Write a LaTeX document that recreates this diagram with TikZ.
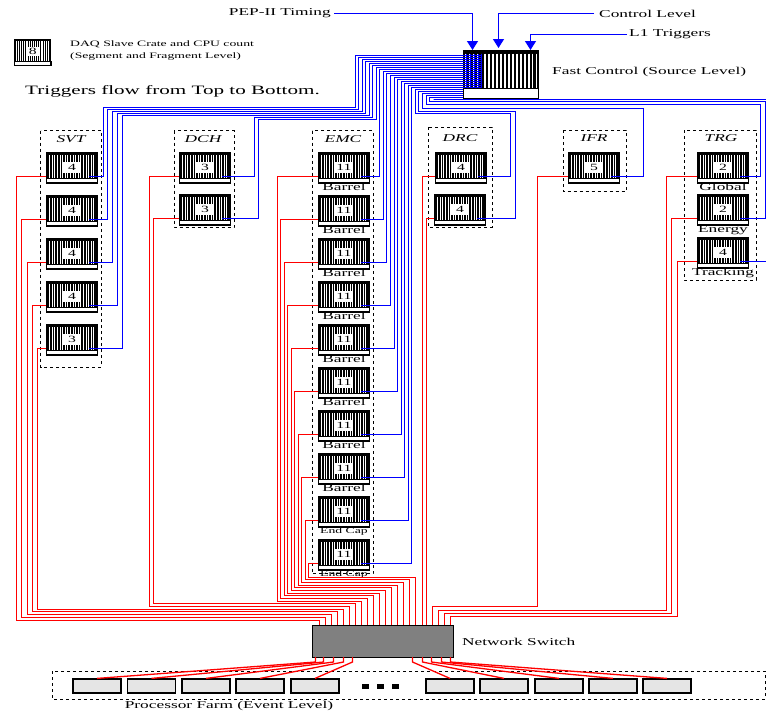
\documentclass[tikz,border=0pt]{standalone}
\usepackage{fontspec}
\setmainfont[FakeStretch=1.65]{Liberation Serif}
\usetikzlibrary{arrows.meta}
\newcommand\numfnt{\fontsize{9.5}{10}\selectfont}
\newcommand\lblfnt{\fontsize{10.5}{12}\selectfont}
\newcommand\smfnt{\fontsize{8.3}{10}\selectfont}
\newcommand\bigfnt{\fontsize{12.8}{14}\selectfont}
\tikzset{
  pics/crate/.style={code={
    \fill[black] (0,0) rectangle (52,26.5);
    \foreach \i in {0,...,17}{\draw[white,line width=0.9pt] ({3.7+2.6*\i},3.3) -- ({3.7+2.6*\i},25.8);}
    \fill[white] (17,9.5) rectangle (35,20.5);
    \node[inner sep=0pt,font=\numfnt] at (26,15.2) {#1};
    \draw[black,line width=1.1pt,fill=white] (0.55,26.9) rectangle (51.45,31);
    \coordinate (-r) at (0,24.5);
    \coordinate (-b) at (43,24.5);
  }},
}
\begin{document}
\begin{tikzpicture}[x=1pt,y=-1pt,
  rd/.style={draw=red,line width=1.3pt},
  bl/.style={draw=blue,line width=1.3pt},
  arr/.style={-{Triangle[width=11pt,length=9pt]}},
  grp/.style={draw=black,line width=0.8pt,dash pattern=on 3pt off 3pt},
  lbl/.style={inner sep=0pt,font=\lblfnt},
  sml/.style={inner sep=0pt,font=\smfnt},
  col/.style={inner sep=0pt,font=\lblfnt\itshape},
  proc/.style={draw=black,line width=1.2pt,fill=black!10,minimum width=48pt,minimum height=14pt,inner sep=0pt},
]
\useasboundingbox (0,0) rectangle (766,713);
\fill[white] (0,0) rectangle (766,713);
\clip (0,0) rectangle (766,713);

% group boxes
\draw[grp] (40.5,130.5) rectangle (101,367);
\draw[grp] (174,130.5) rectangle (234,227);
\draw[grp] (312,130.5) rectangle (373,573.5);
\draw[grp] (428,127) rectangle (492,227);
\draw[grp] (563,130) rectangle (626,191.5);
\draw[grp] (684,130) rectangle (756,280);
\node[col] (svtl) at (71,139) {SVT};
\node[col] (dchl) at (203,139) {DCH};
\node[col] (emcl) at (343,139) {EMC};
\node[col] (drcl) at (460,138) {DRC};
\node[col] (ifrl) at (594,138) {IFR};
\node[col] (trgl) at (721,138) {TRG};

% legend
\pic[xscale=0.72,yscale=0.87] (leg) at (14,38.5) {crate=8};
\node[sml,anchor=west] (lg1) at (70,44.5) {DAQ Slave Crate and CPU count};
\node[sml,anchor=west] (lg2) at (70,57) {(Segment and Fragment Level)};
\node[inner sep=0pt,font=\bigfnt,anchor=west] (tfl) at (25,91.5) {Triggers flow from Top to Bottom.};

% crates
\foreach \t [count=\i from 0] in {4,4,4,4,3} {\pic (svt\the\numexpr\i+1\relax) at (46,{152+43*\i}) {crate=\t};}
\pic (dch1) at (179,152) {crate=3};
\pic (dch2) at (179,194) {crate=3};
\foreach \j in {1,...,10} {\pic (emc\j) at (318,{152+43*(\j-1)}) {crate=11};}
\pic (drc1) at (435,152) {crate=4};
\pic (drc2) at (434,194) {crate=4};
\pic (ifr) at (568,152) {crate=5};
\pic (trg1) at (697,152) {crate=2};
\pic (trg2) at (697,194) {crate=2};
\pic (trg3) at (697,237) {crate=4};

% crate captions
\foreach \j in {1,...,8} {\node[lbl,anchor=base] at (344,{152+43*(\j-1)+38.5}) {Barrel};}
\node[sml,anchor=base] (ec1) at (344,{496+37}) {End Cap};
\node[sml,anchor=base] (ec2) at (344,{539+37}) {End Cap};
\node[lbl,anchor=base] (gl) at (723,190.5) {Global};
\node[lbl,anchor=base] (en) at (723,232.5) {Energy};
\node[lbl,anchor=base] (tr) at (723,275.5) {Tracking};

% fast control stripes
\fill[black] (463,50) rectangle (539,88);
\foreach \i in {0,...,18} {\draw[white,line width=1.6pt] ({465.5+3.95*\i},53.5) -- ++(0,34.5);}
\node[lbl,anchor=west] (fcl) at (552,71.5) {Fast Control (Source Level)};

% switch and its pins
\node[draw=black,fill=black!50,line width=0.8pt,minimum width=141pt,minimum height=32pt,inner sep=0pt,anchor=north west] (sw) at (312,625) {};
\node[lbl,anchor=west] (swl) at (462,642) {Network Switch};
\foreach \i in {0,...,16} {\coordinate (pin\i) at ({319.5+6*\i},625);}
\foreach \x [count=\i from 0] in {422.5,426.5,432.5,438.5,444.5,450.5} {\coordinate (rpin\i) at (\x,625);}

% red: left group
\foreach \n/\lx/\by [count=\i from 0] in {svt1/16.5/620.5,svt2/21.5/617.5,svt3/27.5/614.5,svt4/32.5/611.5,svt5/37.5/609.5,
  dch1/149.5/606.5,dch2/153.5/603.5,
  emc1/277.5/601.5,emc2/280.5/598.5,emc3/284.5/595.5,emc4/287.5/593.5,emc5/291.5/590.5,
  emc6/294.5/587.5,emc7/298.5/585.5,emc8/301.5/582.5,emc9/305.5/579.5,emc10/308.5/577.5} {
  \draw[rd] (\n-r) -| (\lx,\by) -| (pin\i);
}
% red: right group
\draw[rd] (drc1-r) -| (rpin0);
\draw[rd] (drc2-r) -| (rpin1);
\foreach \n/\lx/\by/\p in {ifr/537.5/606.5/2, trg1/666.5/610.5/3, trg2/671.5/613.5/4, trg3/677.5/616.5/5} {
  \draw[rd] (\n-r) -| (\lx,\by) -| (rpin\p);
}

% blue: left group
\foreach \n/\lx/\yh/\k in {svt1/103.5/107.5/0,svt2/107.5/109.5/1,svt3/112.5/111.5/2,svt4/117.5/113.5/3,svt5/122.5/115.5/4,dch1/254.5/117.5/5,dch2/258.5/119.5/6} {
  \pgfmathsetmacro\xk{floor(355+3.55*\k)+0.5}
  \pgfmathsetmacro\yf{55.5+2*\k}
  \draw[bl] (\n-b) -| (\lx,\yh) -| (\xk,\yf) -- (482,\yf);
}
% blue: EMC
\foreach \j in {1,...,10} {
  \pgfmathsetmacro\xk{floor(355+3.55*(6+\j))+0.5}
  \pgfmathsetmacro\yf{55.5+2*(6+\j)}
  \draw[bl] (emc\j-b) -| (\xk,\yf) -- (482,\yf);
}
% blue: right group
\foreach \n/\rx/\yh/\k in {drc1/510.5/113.5/17,drc2/515.5/111.5/18,ifr/643.5/108.5/19,trg1/760.5/104.5/20,trg2/765.5/101.5/21,trg3/772/99.5/22} {
  \pgfmathsetmacro\xk{floor(355+3.55*\k)+0.5}
  \pgfmathsetmacro\yf{55.5+2*\k}
  \draw[bl] (\n-b) -| (\rx,\yh) -| (\xk,\yf) -- (482,\yf);
}
\foreach \x in {466.5,470.5,474.5,478.5,481.5} {\draw[bl] (\x,54) -- (\x,88);}

% fast control bottom bar
\draw[black,line width=1.1pt,fill=white] (463.5,88.5) rectangle (538.5,98.5);

% input arrows
\coordinate (fcA) at (472.5,50);
\coordinate (fcB) at (498.5,48);
\coordinate (fcC) at (530.5,50);
\node[lbl,anchor=east] (pep) at (331,13.5) {PEP-II Timing};
\node[lbl,anchor=west] (ctl) at (599,13.5) {Control Level};
\node[lbl,anchor=west] (l1t) at (629,34.5) {L1 Triggers};
\draw[bl,arr] ([xshift=3pt]pep.east) -| (fcA);
\draw[bl,arr] ([xshift=-5pt]ctl.west) -| (fcB);
\draw[bl,arr] ([xshift=-2pt]l1t.west) -| (fcC);

% processor farm
\draw[grp] (52,671) rectangle (765,699);
\foreach \x [count=\i] in {97,151.5,206,260,315,450,504,559,613,667} {\node[proc] (pf\i) at (\x,686) {};}
\foreach \x in {361.5,376.5,391.5} {\fill[black] (\x,684) rectangle ++(7,5);}
\node[lbl] (pfl) at (229,706) {Processor Farm (Event Level)};
\foreach \x [count=\i] in {315.5,323.5,333.5,343.5,352.5,412.5,422.5,431.5,441.5,450.5} {
  \coordinate (bp\i) at (\x,657);
  \draw[rd] (bp\i) -- ++(0,5) -- (pf\i.north);
}
\end{tikzpicture}
\end{document}
